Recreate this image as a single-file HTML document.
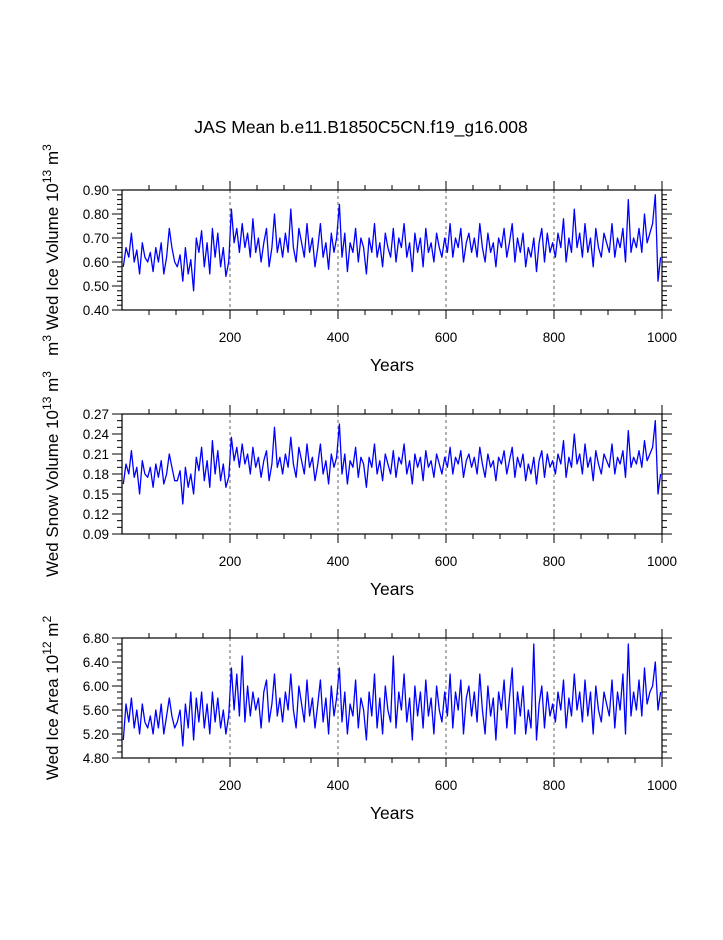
<!DOCTYPE html>
<html><head><meta charset="utf-8"><style>
body{margin:0;background:#fff;}
svg text{font-family:"Liberation Sans",Arial,sans-serif;fill:#000;}
</style></head><body>
<svg id="chart" width="723" height="935" viewBox="0 0 723 935" xmlns="http://www.w3.org/2000/svg">
<rect width="723" height="935" fill="#fff"/>
<text x="361" y="133" font-size="17.5" text-anchor="middle">JAS Mean b.e11.B1850C5CN.f19_g16.008</text>
<g id="panels"></g>
</svg>
<script>
const iceVolume = [
0.58,0.66,0.62,0.72,0.60,0.65,0.55,0.68,0.62,0.60,
0.64,0.56,0.66,0.60,0.68,0.55,0.62,0.74,0.66,0.60,
0.58,0.63,0.52,0.66,0.55,0.61,0.48,0.70,0.64,0.73,
0.58,0.68,0.55,0.74,0.62,0.72,0.58,0.66,0.54,0.60,
0.82,0.68,0.74,0.64,0.76,0.66,0.72,0.62,0.78,0.64,
0.70,0.60,0.68,0.74,0.58,0.66,0.80,0.64,0.70,0.62,
0.72,0.64,0.82,0.66,0.60,0.74,0.68,0.62,0.76,0.64,
0.70,0.58,0.66,0.76,0.62,0.68,0.57,0.72,0.64,0.70,
0.84,0.62,0.72,0.56,0.68,0.64,0.74,0.60,0.70,0.66,
0.55,0.70,0.64,0.76,0.62,0.68,0.58,0.72,0.66,0.62,
0.74,0.60,0.70,0.66,0.76,0.62,0.68,0.56,0.72,0.64,
0.70,0.58,0.74,0.64,0.68,0.60,0.72,0.66,0.62,0.70,
0.64,0.76,0.62,0.70,0.66,0.74,0.60,0.68,0.72,0.64,
0.70,0.62,0.76,0.66,0.60,0.72,0.64,0.68,0.58,0.70,
0.66,0.74,0.62,0.68,0.76,0.60,0.70,0.64,0.72,0.58,
0.66,0.62,0.70,0.56,0.68,0.74,0.60,0.72,0.64,0.68,
0.62,0.72,0.66,0.78,0.60,0.70,0.64,0.82,0.66,0.72,
0.62,0.76,0.64,0.70,0.58,0.74,0.66,0.62,0.72,0.68,
0.64,0.76,0.62,0.70,0.66,0.74,0.60,0.86,0.64,0.70,
0.66,0.74,0.64,0.80,0.68,0.72,0.76,0.88,0.52,0.62];
const snowVolume = [
0.165,0.195,0.18,0.215,0.175,0.19,0.15,0.2,0.18,0.175,
0.19,0.16,0.195,0.175,0.2,0.165,0.18,0.21,0.19,0.17,
0.17,0.185,0.135,0.19,0.16,0.18,0.15,0.205,0.185,0.22,
0.17,0.2,0.16,0.23,0.18,0.215,0.17,0.195,0.16,0.175,
0.235,0.2,0.22,0.19,0.225,0.195,0.21,0.18,0.22,0.19,
0.205,0.175,0.2,0.215,0.17,0.195,0.25,0.19,0.205,0.18,
0.21,0.19,0.235,0.195,0.175,0.22,0.2,0.18,0.225,0.19,
0.205,0.17,0.195,0.225,0.18,0.2,0.165,0.21,0.19,0.205,
0.255,0.18,0.21,0.165,0.2,0.19,0.22,0.175,0.205,0.195,
0.16,0.205,0.19,0.225,0.18,0.2,0.17,0.21,0.195,0.18,
0.215,0.175,0.205,0.195,0.225,0.18,0.2,0.165,0.21,0.19,
0.205,0.17,0.215,0.19,0.2,0.175,0.21,0.195,0.18,0.205,
0.19,0.22,0.18,0.205,0.195,0.215,0.175,0.2,0.21,0.19,
0.205,0.18,0.22,0.195,0.175,0.21,0.19,0.2,0.17,0.205,
0.195,0.215,0.18,0.2,0.22,0.175,0.205,0.19,0.21,0.17,
0.195,0.18,0.205,0.165,0.2,0.215,0.175,0.21,0.19,0.2,
0.18,0.21,0.195,0.23,0.175,0.205,0.19,0.24,0.195,0.21,
0.18,0.225,0.19,0.205,0.17,0.215,0.195,0.18,0.21,0.2,
0.19,0.225,0.18,0.205,0.195,0.215,0.175,0.245,0.19,0.205,
0.195,0.215,0.19,0.23,0.2,0.21,0.22,0.26,0.15,0.18];
const iceArea = [
5.1,5.7,5.4,5.8,5.3,5.6,5.2,5.7,5.4,5.3,
5.5,5.2,5.6,5.3,5.7,5.2,5.5,5.8,5.5,5.3,
5.4,5.6,5.0,5.7,5.3,5.9,5.1,5.8,5.4,5.9,
5.3,5.7,5.2,5.9,5.4,5.8,5.3,5.6,5.2,5.5,
6.3,5.6,6.2,5.5,6.5,5.4,6.0,5.5,5.9,5.6,
5.8,5.3,5.9,6.1,5.4,5.7,6.2,5.5,5.8,5.4,
5.9,5.6,6.2,5.6,5.3,6.0,5.7,5.4,6.1,5.5,
5.8,5.3,5.7,6.1,5.4,5.8,5.2,6.0,5.5,5.8,
6.3,5.4,5.9,5.2,5.7,5.5,6.1,5.3,5.8,5.6,
5.1,5.9,5.5,6.2,5.3,5.8,5.2,6.0,5.6,5.4,
6.5,5.3,5.9,5.6,6.2,5.4,5.8,5.1,6.0,5.5,
5.9,5.3,6.1,5.5,5.8,5.2,6.0,5.6,5.4,5.9,
5.5,6.2,5.3,5.9,5.6,6.1,5.2,5.8,6.0,5.5,
5.9,5.4,6.2,5.6,5.2,6.0,5.5,5.8,5.1,5.9,
5.6,6.1,5.3,5.8,6.3,5.2,5.9,5.5,6.0,5.2,
5.6,5.3,6.7,5.1,5.7,6.0,5.3,5.9,5.5,5.7,
5.4,5.9,5.6,6.1,5.3,5.8,5.5,6.2,5.6,5.9,
5.4,6.1,5.5,5.9,5.2,6.0,5.6,5.4,5.9,5.7,
5.5,6.1,5.3,5.9,5.6,6.2,5.2,6.7,5.5,5.9,
5.6,6.1,5.5,6.3,5.7,5.9,6.0,6.4,5.6,5.9];
const xTicks = [200,400,600,800,1000];
const panelsCfg = [
 {data:iceVolume, top:190, ymin:0.40, ymax:0.90, yTicks:[0.40,0.50,0.60,0.70,0.80,0.90], dec:2, minor:5, title:'Wed Ice Volume 10', sup:'13', unit:' m', usup:'3', lead:'m', leadsup:'3', name:'ice-volume'},
 {data:snowVolume, top:414, ymin:0.09, ymax:0.27, yTicks:[0.09,0.12,0.15,0.18,0.21,0.24,0.27], dec:2, minor:3, title:'Wed Snow Volume 10', sup:'13', unit:' m', usup:'3', name:'snow-volume'},
 {data:iceArea, top:638, ymin:4.80, ymax:6.80, yTicks:[4.80,5.20,5.60,6.00,6.40,6.80], dec:2, minor:4, title:'Wed Ice Area 10', sup:'12', unit:' m', usup:'2', name:'ice-area'}
];
const NS='http://www.w3.org/2000/svg';
const L=122,R=662,H=120;
const xs=v=>L+(v/1000)*(R-L);
function mk(tag,attrs,parent){const e=document.createElementNS(NS,tag);for(const k in attrs)e.setAttribute(k,attrs[k]);parent.appendChild(e);return e;}
const root=document.getElementById('panels');
panelsCfg.forEach(p=>{
 const T=p.top,B=T+H;
 const ys=v=>B-(v-p.ymin)/(p.ymax-p.ymin)*H;
 const g=mk('g',{},root);
 
 
 // dashed gridlines
 [200,400,600,800].forEach(v=>{const l=mk('line',{x1:xs(v),x2:xs(v),y1:T,y2:B,stroke:'#000','stroke-width':0.6,'stroke-dasharray':'3,3'},g);
  
  });
 // series
 const pts=p.data.map((v,i)=>xs(i*5+2.5).toFixed(1)+','+ys(v).toFixed(1)).join(' ');
 const pl=mk('polyline',{points:pts,fill:'none',stroke:'#0000ff','stroke-width':1.3,'stroke-linejoin':'round'},g);
 
 
 // frame
 const fr=mk('rect',{x:L,y:T,width:R-L,height:H,fill:'none',stroke:'#000','stroke-width':1.2},g);
 
 
 // x ticks (outward top & bottom)
 for(let v=50;v<=1000;v+=50){const maj=v%200===0;const len=maj?9:5;
  mk('line',{x1:xs(v),x2:xs(v),y1:B,y2:B+len,stroke:'#000','stroke-width':1},g);
  mk('line',{x1:xs(v),x2:xs(v),y1:T,y2:T-len,stroke:'#000','stroke-width':1},g);}
 xTicks.forEach(v=>{const t=mk('text',{x:xs(v),y:B+32,'font-size':13.5,'text-anchor':'middle'},g);t.textContent=v;
  
  });
 const xt=mk('text',{x:(L+R)/2,y:B+61,'font-size':17.5,'text-anchor':'middle'},g);xt.textContent='Years';
 
 
 // y ticks
 const step=p.yTicks[1]-p.yTicks[0];
 for(let i=0;i<p.yTicks.length;i++){
  const v=p.yTicks[i];const y=ys(v);
  mk('line',{x1:L,x2:L-10,y1:y,y2:y,stroke:'#000','stroke-width':1},g);
  mk('line',{x1:R,x2:R+10,y1:y,y2:y,stroke:'#000','stroke-width':1},g);
  if(i<p.yTicks.length-1){for(let m=1;m<p.minor;m++){const ym=ys(v+step*m/p.minor);
   mk('line',{x1:L,x2:L-5,y1:ym,y2:ym,stroke:'#000','stroke-width':1},g);
   mk('line',{x1:R,x2:R+5,y1:ym,y2:ym,stroke:'#000','stroke-width':1},g);}}
  const t=mk('text',{x:L-13,y:y+5,'font-size':13.5,'text-anchor':'end'},g);t.textContent=v.toFixed(p.dec);
  
  
 }
 // y title
 const yt=mk('text',{transform:`translate(58,${T+H/2}) rotate(-90)`,'font-size':17,'text-anchor':'middle'},g);
 
 
 let html='';
 if(p.lead) html+=`<tspan>${p.lead}</tspan><tspan dy="-7" font-size="12">${p.leadsup}</tspan><tspan dy="7"> </tspan>`;
 html+=`<tspan>${p.title}</tspan><tspan dy="-7" font-size="12">${p.sup}</tspan><tspan dy="7">${p.unit}</tspan><tspan dy="-7" font-size="12">${p.usup}</tspan>`;
 yt.innerHTML=html;
});
</script>
</body></html>
